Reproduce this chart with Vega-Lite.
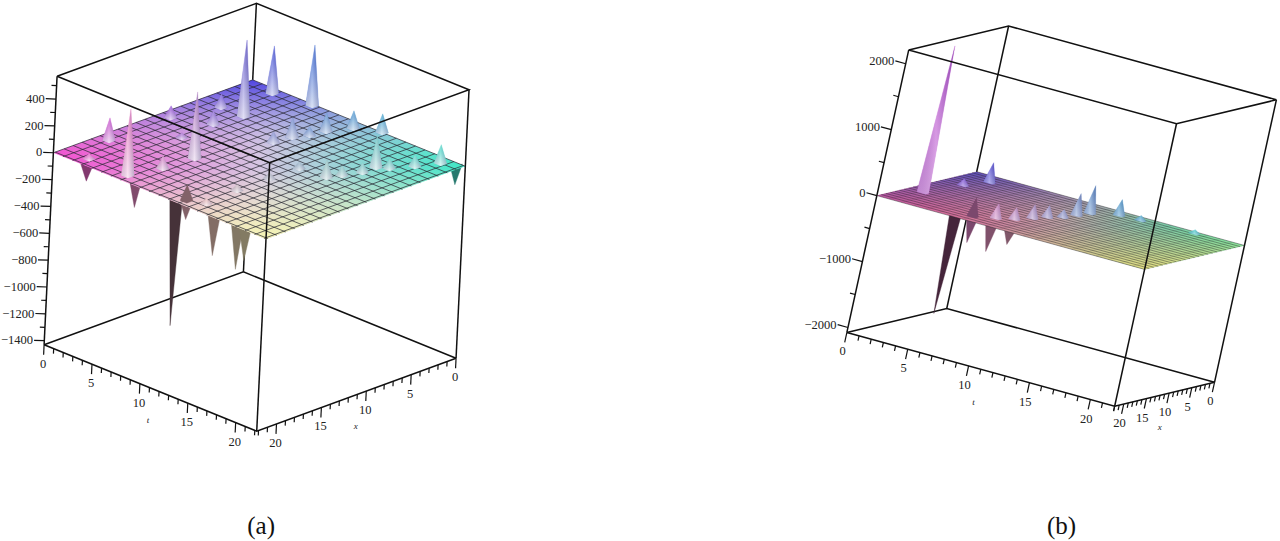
{"$schema":"https://vega.github.io/schema/vega-lite/v6.json","width":1280,"height":541,"autosize":{"type":"fit","contains":"padding"},"padding":0,"background":"white","config":{"view":{"stroke":null}},
"data":{"values":[
{"p":"a","e":"b1","o":0,"t":0,"x":22.2,"z":-1430},{"p":"a","e":"b1","o":1,"t":0,"x":0,"z":-1430},{"p":"a","e":"b1","o":2,"t":22.2,"x":0,"z":-1430},{"p":"a","e":"b2","o":0,"t":0,"x":0,"z":-1430},{"p":"a","e":"b2","o":1,"t":0,"x":0,"z":570},
{"p":"a","e":"f1","o":0,"t":0,"x":22.2,"z":570},{"p":"a","e":"f1","o":1,"t":0,"x":0,"z":570},{"p":"a","e":"f1","o":2,"t":22.2,"x":0,"z":570},{"p":"a","e":"f1","o":3,"t":22.2,"x":22.2,"z":570},{"p":"a","e":"f1","o":4,"t":0,"x":22.2,"z":570},
{"p":"a","e":"f2","o":0,"t":0,"x":22.2,"z":-1430},{"p":"a","e":"f2","o":1,"t":0,"x":22.2,"z":570},{"p":"a","e":"f3","o":0,"t":22.2,"x":0,"z":-1430},{"p":"a","e":"f3","o":1,"t":22.2,"x":0,"z":570},{"p":"a","e":"f4","o":0,"t":22.2,"x":22.2,"z":-1430},{"p":"a","e":"f4","o":1,"t":22.2,"x":22.2,"z":570},
{"p":"a","e":"f5","o":0,"t":0,"x":22.2,"z":-1430},{"p":"a","e":"f5","o":1,"t":22.2,"x":22.2,"z":-1430},{"p":"a","e":"f5","o":2,"t":22.2,"x":0,"z":-1430},
{"p":"b","e":"b1","o":0,"t":0,"x":22,"z":-2075},{"p":"b","e":"b1","o":1,"t":0,"x":0,"z":-2075},{"p":"b","e":"b1","o":2,"t":22,"x":0,"z":-2075},{"p":"b","e":"b2","o":0,"t":0,"x":0,"z":-2075},{"p":"b","e":"b2","o":1,"t":0,"x":0,"z":2209},
{"p":"b","e":"f1","o":0,"t":0,"x":22,"z":2209},{"p":"b","e":"f1","o":1,"t":0,"x":0,"z":2209},{"p":"b","e":"f1","o":2,"t":22,"x":0,"z":2209},{"p":"b","e":"f1","o":3,"t":22,"x":22,"z":2209},{"p":"b","e":"f1","o":4,"t":0,"x":22,"z":2209},
{"p":"b","e":"f2","o":0,"t":0,"x":22,"z":-2075},{"p":"b","e":"f2","o":1,"t":0,"x":22,"z":2209},{"p":"b","e":"f3","o":0,"t":22,"x":0,"z":-2075},{"p":"b","e":"f3","o":1,"t":22,"x":0,"z":2209},{"p":"b","e":"f4","o":0,"t":22,"x":22,"z":-2075},{"p":"b","e":"f4","o":1,"t":22,"x":22,"z":2209},
{"p":"b","e":"f5","o":0,"t":0,"x":22,"z":-2075},{"p":"b","e":"f5","o":1,"t":22,"x":22,"z":-2075},{"p":"b","e":"f5","o":2,"t":22,"x":0,"z":-2075},
{"p":"a","e":"plane","o":0,"t":0,"x":0,"z":0},{"p":"a","e":"plane","o":1,"t":22.2,"x":0,"z":0},{"p":"a","e":"plane","o":2,"t":22.2,"x":22.2,"z":0},{"p":"a","e":"plane","o":3,"t":0,"x":22.2,"z":0},{"p":"a","e":"plane","o":4,"t":0,"x":0,"z":0},
{"p":"b","e":"plane","o":0,"t":0,"x":0,"z":0},{"p":"b","e":"plane","o":1,"t":22,"x":0,"z":0},{"p":"b","e":"plane","o":2,"t":22,"x":22,"z":0},{"p":"b","e":"plane","o":3,"t":0,"x":22,"z":0},{"p":"b","e":"plane","o":4,"t":0,"x":0,"z":0},
{"p":"a","a":"t","v":0},{"p":"a","a":"t","v":1},{"p":"a","a":"t","v":2},{"p":"a","a":"t","v":3},{"p":"a","a":"t","v":4},{"p":"a","a":"t","v":5},{"p":"a","a":"t","v":6},{"p":"a","a":"t","v":7},{"p":"a","a":"t","v":8},{"p":"a","a":"t","v":9},{"p":"a","a":"t","v":10},{"p":"a","a":"t","v":11},{"p":"a","a":"t","v":12},{"p":"a","a":"t","v":13},{"p":"a","a":"t","v":14},{"p":"a","a":"t","v":15},{"p":"a","a":"t","v":16},{"p":"a","a":"t","v":17},{"p":"a","a":"t","v":18},{"p":"a","a":"t","v":19},{"p":"a","a":"t","v":20},{"p":"a","a":"t","v":21},{"p":"a","a":"t","v":22},
{"p":"a","a":"x","v":0},{"p":"a","a":"x","v":1},{"p":"a","a":"x","v":2},{"p":"a","a":"x","v":3},{"p":"a","a":"x","v":4},{"p":"a","a":"x","v":5},{"p":"a","a":"x","v":6},{"p":"a","a":"x","v":7},{"p":"a","a":"x","v":8},{"p":"a","a":"x","v":9},{"p":"a","a":"x","v":10},{"p":"a","a":"x","v":11},{"p":"a","a":"x","v":12},{"p":"a","a":"x","v":13},{"p":"a","a":"x","v":14},{"p":"a","a":"x","v":15},{"p":"a","a":"x","v":16},{"p":"a","a":"x","v":17},{"p":"a","a":"x","v":18},{"p":"a","a":"x","v":19},{"p":"a","a":"x","v":20},{"p":"a","a":"x","v":21},{"p":"a","a":"x","v":22},
{"p":"b","a":"t","v":0},{"p":"b","a":"t","v":1},{"p":"b","a":"t","v":2},{"p":"b","a":"t","v":3},{"p":"b","a":"t","v":4},{"p":"b","a":"t","v":5},{"p":"b","a":"t","v":6},{"p":"b","a":"t","v":7},{"p":"b","a":"t","v":8},{"p":"b","a":"t","v":9},{"p":"b","a":"t","v":10},{"p":"b","a":"t","v":11},{"p":"b","a":"t","v":12},{"p":"b","a":"t","v":13},{"p":"b","a":"t","v":14},{"p":"b","a":"t","v":15},{"p":"b","a":"t","v":16},{"p":"b","a":"t","v":17},{"p":"b","a":"t","v":18},{"p":"b","a":"t","v":19},{"p":"b","a":"t","v":20},{"p":"b","a":"t","v":21},{"p":"b","a":"t","v":22},
{"p":"b","a":"x","v":0},{"p":"b","a":"x","v":1},{"p":"b","a":"x","v":2},{"p":"b","a":"x","v":3},{"p":"b","a":"x","v":4},{"p":"b","a":"x","v":5},{"p":"b","a":"x","v":6},{"p":"b","a":"x","v":7},{"p":"b","a":"x","v":8},{"p":"b","a":"x","v":9},{"p":"b","a":"x","v":10},{"p":"b","a":"x","v":11},{"p":"b","a":"x","v":12},{"p":"b","a":"x","v":13},{"p":"b","a":"x","v":14},{"p":"b","a":"x","v":15},{"p":"b","a":"x","v":16},{"p":"b","a":"x","v":17},{"p":"b","a":"x","v":18},{"p":"b","a":"x","v":19},{"p":"b","a":"x","v":20},{"p":"b","a":"x","v":21},{"p":"b","a":"x","v":22},
{"p":"a","a":"z","v":-1400},{"p":"a","a":"z","v":-1300},{"p":"a","a":"z","v":-1200},{"p":"a","a":"z","v":-1100},{"p":"a","a":"z","v":-1000},{"p":"a","a":"z","v":-900},{"p":"a","a":"z","v":-800},{"p":"a","a":"z","v":-700},{"p":"a","a":"z","v":-600},{"p":"a","a":"z","v":-500},{"p":"a","a":"z","v":-400},{"p":"a","a":"z","v":-300},{"p":"a","a":"z","v":-200},{"p":"a","a":"z","v":-100},{"p":"a","a":"z","v":0},{"p":"a","a":"z","v":100},{"p":"a","a":"z","v":200},{"p":"a","a":"z","v":300},{"p":"a","a":"z","v":400},{"p":"a","a":"z","v":500},
{"p":"b","a":"z","v":-2000},{"p":"b","a":"z","v":-1500},{"p":"b","a":"z","v":-1000},{"p":"b","a":"z","v":-500},{"p":"b","a":"z","v":0},{"p":"b","a":"z","v":500},{"p":"b","a":"z","v":1000},{"p":"b","a":"z","v":1500},{"p":"b","a":"z","v":2000},
{"p":"a","label":"t","it":1,"t":11,"x":22.2,"z":-1668},{"p":"a","label":"x","it":1,"t":22.2,"x":11,"z":-1668},{"p":"b","label":"t","it":1,"t":11,"x":22,"z":-2575},{"p":"b","label":"x","it":1,"t":22,"x":10.5,"z":-2575},
{"p":"a","label":"(a)","cap":1,"t":13.1,"x":11.1,"z":-2675},{"p":"b","label":"(b)","cap":1,"t":16.25,"x":11,"z":-4370},
{"p":"a","t":21.4,"x":0.2,"z":-156},{"p":"a","t":3.15,"x":21.8,"z":-130},{"p":"a","t":7.57,"x":21.1,"z":-215},{"p":"a","t":11.9,"x":21.2,"z":-967},{"p":"a","t":13.06,"x":21.3,"z":-141},{"p":"a","t":16.06,"x":21.4,"z":-320},{"p":"a","t":18.4,"x":21.3,"z":-357},{"p":"a","t":19.35,"x":21.45,"z":-260},
{"p":"b","t":5.88,"x":20.4,"z":-1514},{"p":"b","t":7,"x":19.7,"z":-394},{"p":"b","t":9,"x":20.85,"z":-409},{"p":"b","t":10.5,"x":20.8,"z":-227},
{"p":"a","t":2.85,"x":0.88,"z":357},{"p":"a","t":6.44,"x":0.26,"z":453},{"p":"a","t":4.53,"x":5.87,"z":572},{"p":"a","t":2.2,"x":5.9,"z":104},{"p":"a","t":1.08,"x":10.3,"z":90},{"p":"a","t":4.1,"x":8.8,"z":105},{"p":"a","t":4.3,"x":12.5,"z":37},{"p":"a","t":1.11,"x":17.2,"z":170},{"p":"a","t":13.54,"x":0.06,"z":141},{"p":"a","t":11.58,"x":1.17,"z":134},{"p":"a","t":10.64,"x":3.2,"z":141},{"p":"a","t":10.36,"x":4.75,"z":67},{"p":"a","t":9.77,"x":6.05,"z":149},{"p":"a","t":9.5,"x":7.86,"z":82},{"p":"a","t":7.79,"x":14.8,"z":498},{"p":"a","t":7.56,"x":18.1,"z":97},{"p":"a","t":2.6,"x":21,"z":40},{"p":"a","t":6.78,"x":21.15,"z":498},{"p":"a","t":20.6,"x":1.07,"z":141},{"p":"a","t":19.75,"x":3.03,"z":89},{"p":"a","t":18.76,"x":4.8,"z":74},{"p":"a","t":17.97,"x":5.45,"z":238},{"p":"a","t":17.97,"x":6.97,"z":74},{"p":"a","t":17.37,"x":8.6,"z":74},{"p":"a","t":16.86,"x":9.8,"z":134},{"p":"a","t":14.3,"x":10.08,"z":50},{"p":"a","t":14.2,"x":13.3,"z":45},{"p":"a","t":14.2,"x":16.9,"z":45},{"p":"a","t":14.46,"x":20.6,"z":40},{"p":"a","t":13.06,"x":21.3,"z":120,"dark":1},
{"p":"b","t":2.23,"x":3.2,"z":303},{"p":"b","t":1.7,"x":7.6,"z":106},{"p":"b","t":1.28,"x":15.3,"z":2225},{"p":"b","t":18.2,"x":0.85,"z":60},{"p":"b","t":14.05,"x":1.64,"z":76},{"p":"b","t":12.43,"x":2,"z":242},{"p":"b","t":11,"x":4.6,"z":424},{"p":"b","t":10.8,"x":7,"z":333},{"p":"b","t":10.6,"x":9.5,"z":121},{"p":"b","t":10,"x":11.3,"z":182},{"p":"b","t":9.6,"x":13.5,"z":212},{"p":"b","t":9.07,"x":16.05,"z":182},{"p":"b","t":8.2,"x":17.8,"z":227},{"p":"b","t":7,"x":19.7,"z":288,"dark":1}
]},
"transform":[
{"calculate":"!datum.a && !datum.e && !datum.label","as":"sp"},
{"calculate":"datum.sp || datum.a ? [0,1,2,3,4] : [0]","as":"k"},
{"flatten":["k"]},
{"calculate":"datum.p=='a'?22.2:22","as":"tm"},
{"calculate":"datum.p=='a'?-1430:-2075","as":"zn"},
{"calculate":"datum.a=='z' ? (datum.p=='a' ? datum.v%200==0 : datum.v%1000==0) : datum.v%5==0","as":"M"},
{"calculate":"(datum.p=='a'?74:150)*(datum.M?1:0.5)","as":"L"},
{"calculate":"datum.p=='a'?141:288","as":"Lb"},
{"calculate":"datum.a=='t' ? datum.v : datum.a=='x' ? (datum.k==0?0:datum.tm) : datum.a=='z' ? (datum.k==2?0:-(datum.p=='a'?0.55:0.85)*(datum.M?1:0.5)) : datum.sp ? datum.t+(datum.k==1?0:(datum.k==0||datum.k==4)?-0.35:0.35) : datum.t","as":"TT"},
{"calculate":"datum.a=='t' ? (datum.k==0?0:datum.tm) : datum.a=='x' ? datum.v : datum.a=='z' ? datum.tm+(datum.k==2?0:(datum.p=='a'?0.55*(datum.M?1:0.5):0)) : datum.sp ? datum.x+(datum.k==1?0:datum.k==2?-0.35:0.35) : datum.x","as":"XX"},
{"calculate":"datum.a=='z' ? datum.v : datum.a ? (datum.k<2?0:datum.k==2?datum.zn:datum.k==3?datum.zn-datum.L:datum.zn-datum.Lb) : datum.sp ? (datum.k==1?datum.z:0) : datum.z","as":"ZZ"},
{"calculate":"datum.p=='a' ? 253.3+9.6*datum.TT-9*datum.XX+0.0065*datum.ZZ : 979+12.2*datum.TT-4.55*datum.XX+0.01447*datum.ZZ","as":"sx"},
{"calculate":"datum.p=='a' ? 79+3.9*datum.TT+3.29*datum.XX-0.1345*datum.ZZ : 171+3.36*datum.TT+1.09*datum.XX-0.06606*datum.ZZ","as":"sy"},
{"calculate":"datum.p+'_'+datum.a+'_'+datum.v+'_'+datum.t+'_'+datum.x+'_'+datum.z+'_'+datum.e","as":"id"},
{"calculate":"datum.p+'_'+datum.e","as":"gr"},
{"calculate":"datum.t/datum.tm","as":"uu"},
{"calculate":"datum.x/datum.tm","as":"ww"},
{"calculate":"datum.dark||datum.z<0 ? (datum.z<-500?0.3:0.55) : 1","as":"ff"},
{"calculate":"datum.sp ? 'rgb('+round(datum.ff*(70*(1-datum.ww)+datum.ww*(240*(1-datum.uu)+245*datum.uu)))+','+round(datum.ff*((1-datum.ww)*(70+155*datum.uu)+datum.ww*(80+165*datum.uu)))+','+round(datum.ff*((1-datum.ww)*(220-20*datum.uu)+datum.ww*(205-30*datum.uu)))+')' : null","as":"col"},
{"calculate":"datum.a=='z'&&datum.v<0 ? '\u2212'+abs(datum.v) : ''+datum.v","as":"tx"}
],
"encoding":{"x":{"field":"sx","type":"quantitative","axis":null,"scale":{"domain":[0,1280],"nice":false,"zero":false}},"y":{"field":"sy","type":"quantitative","axis":null,"scale":{"domain":[541,0],"nice":false,"zero":false}}},
"layer":[
{"transform":[{"filter":"datum.e=='b1'||datum.e=='b2'"}],"mark":{"type":"line","stroke":"#111","strokeWidth":1.5},"encoding":{"detail":{"field":"gr","type":"nominal"},"order":{"field":"o","type":"quantitative"}}},
{"transform":[{"filter":"datum.sp && datum.z<0"}],"mark":{"type":"line","strokeWidth":0.4},"encoding":{"detail":{"field":"id","type":"nominal"},"order":{"field":"k","type":"quantitative"},"fill":{"field":"col","type":"nominal","scale":null},"stroke":{"field":"col","type":"nominal","scale":null}}},
{"transform":[{"filter":"datum.e=='plane'&&datum.p=='a'"}],"mark":{"type":"line","strokeWidth":0,"fill":{"gradient":"linear","x1":0,"y1":0,"x2":1,"y2":0,"stops":[{"offset":0,"color":"#f24fd0"},{"offset":0.5,"color":"#d5c6e2"},{"offset":1,"color":"#3fe8c6"}]}},"encoding":{"order":{"field":"o","type":"quantitative"}}},
{"transform":[{"filter":"datum.e=='plane'&&datum.p=='a'"}],"mark":{"type":"line","strokeWidth":0,"fill":{"gradient":"linear","x1":0,"y1":0,"x2":0,"y2":1,"stops":[{"offset":0,"color":"rgba(70,60,225,0.95)"},{"offset":0.48,"color":"rgba(200,190,230,0)"},{"offset":0.55,"color":"rgba(250,245,200,0)"},{"offset":1,"color":"rgba(248,248,175,0.95)"}]}},"encoding":{"order":{"field":"o","type":"quantitative"}}},
{"transform":[{"filter":"datum.e=='plane'&&datum.p=='b'"}],"mark":{"type":"line","strokeWidth":0,"fill":{"gradient":"linear","x1":0,"y1":0,"x2":1,"y2":0,"stops":[{"offset":0,"color":"#e8488f"},{"offset":0.5,"color":"#c0a4a8"},{"offset":1,"color":"#4ae8a8"}]}},"encoding":{"order":{"field":"o","type":"quantitative"}}},
{"transform":[{"filter":"datum.e=='plane'&&datum.p=='b'"}],"mark":{"type":"line","strokeWidth":0,"fill":{"gradient":"linear","x1":0,"y1":0,"x2":0,"y2":1,"stops":[{"offset":0,"color":"rgba(70,70,190,0.85)"},{"offset":0.48,"color":"rgba(150,130,170,0)"},{"offset":0.55,"color":"rgba(220,200,130,0)"},{"offset":1,"color":"rgba(235,228,130,0.95)"}]}},"encoding":{"order":{"field":"o","type":"quantitative"}}},
{"transform":[{"filter":"datum.p=='a'&&(datum.a=='t'||datum.a=='x')&&datum.k<2"}],"mark":{"type":"line","stroke":"#2a2a33","strokeWidth":0.9,"strokeOpacity":0.8},"encoding":{"detail":{"field":"id","type":"nominal"},"order":{"field":"k","type":"quantitative"}}},
{"transform":[{"filter":"datum.p=='b'&&datum.a=='t'&&datum.k<2"}],"mark":{"type":"line","stroke":"#2a2a33","strokeWidth":0.4,"strokeOpacity":0.3},"encoding":{"detail":{"field":"id","type":"nominal"},"order":{"field":"k","type":"quantitative"}}},
{"transform":[{"filter":"datum.p=='b'&&datum.a=='x'&&datum.k<2"}],"mark":{"type":"line","stroke":"#1c1c22","strokeWidth":0.7,"strokeOpacity":0.6},"encoding":{"detail":{"field":"id","type":"nominal"},"order":{"field":"k","type":"quantitative"}}},
{"transform":[{"filter":"datum.sp && datum.z>0"}],"mark":{"type":"line","strokeWidth":0.3},"encoding":{"detail":{"field":"id","type":"nominal"},"order":{"field":"k","type":"quantitative"},"fill":{"field":"col","type":"nominal","scale":null},"stroke":{"field":"col","type":"nominal","scale":null}}},
{"transform":[{"filter":"datum.sp && datum.z>0 && !datum.dark && datum.p=='a'"}],"mark":{"type":"line","strokeWidth":0,"fill":{"gradient":"linear","x1":0,"y1":1,"x2":0,"y2":0,"stops":[{"offset":0,"color":"rgba(255,255,255,0.75)"},{"offset":0.7,"color":"rgba(255,255,255,0.1)"},{"offset":1,"color":"rgba(255,255,255,0)"}]}},"encoding":{"detail":{"field":"id","type":"nominal"},"order":{"field":"k","type":"quantitative"}}},
{"transform":[{"filter":"datum.sp && datum.z>0 && !datum.dark && datum.p=='b'"}],"mark":{"type":"line","strokeWidth":0,"fill":{"gradient":"linear","x1":0,"y1":1,"x2":0,"y2":0,"stops":[{"offset":0,"color":"rgba(255,255,255,0.4)"},{"offset":0.7,"color":"rgba(255,255,255,0.05)"},{"offset":1,"color":"rgba(255,255,255,0)"}]}},"encoding":{"detail":{"field":"id","type":"nominal"},"order":{"field":"k","type":"quantitative"}}},
{"transform":[{"filter":"datum.sp && datum.z>0 && !datum.dark"}],"mark":{"type":"line","strokeWidth":0,"fill":{"gradient":"linear","x1":0,"y1":0,"x2":1,"y2":0,"stops":[{"offset":0,"color":"rgba(40,20,80,0.12)"},{"offset":0.5,"color":"rgba(255,255,255,0.25)"},{"offset":1,"color":"rgba(30,30,90,0.25)"}]}},"encoding":{"detail":{"field":"id","type":"nominal"},"order":{"field":"k","type":"quantitative"}}},
{"transform":[{"filter":"datum.e=='f1'||datum.e=='f2'||datum.e=='f3'||datum.e=='f4'||datum.e=='f5'"}],"mark":{"type":"line","stroke":"#111","strokeWidth":1.5},"encoding":{"detail":{"field":"gr","type":"nominal"},"order":{"field":"o","type":"quantitative"}}},
{"transform":[{"filter":"datum.a && (datum.k==2||datum.k==3)"}],"mark":{"type":"line","stroke":"#111","strokeWidth":1.2},"encoding":{"detail":{"field":"id","type":"nominal"},"order":{"field":"k","type":"quantitative"}}},
{"transform":[{"filter":"datum.a && datum.a!='z' && datum.M && datum.k==4"}],"mark":{"type":"text","font":"Liberation Serif","fontSize":12.5,"color":"#222","align":"center","baseline":"middle"},"encoding":{"text":{"field":"tx","type":"nominal"}}},
{"transform":[{"filter":"datum.a=='z' && datum.M && datum.k==4"}],"mark":{"type":"text","font":"Liberation Serif","fontSize":12.5,"color":"#222","align":"right","baseline":"middle","dx":-1},"encoding":{"text":{"field":"tx","type":"nominal"}}},
{"transform":[{"filter":"datum.it"}],"mark":{"type":"text","font":"Liberation Serif","fontSize":9,"fontStyle":"italic","color":"#222","align":"center","baseline":"middle"},"encoding":{"text":{"field":"label","type":"nominal"}}},
{"transform":[{"filter":"datum.cap"}],"mark":{"type":"text","font":"Liberation Serif","fontSize":25,"color":"#111","align":"center","baseline":"middle"},"encoding":{"text":{"field":"label","type":"nominal"}}}
]}
